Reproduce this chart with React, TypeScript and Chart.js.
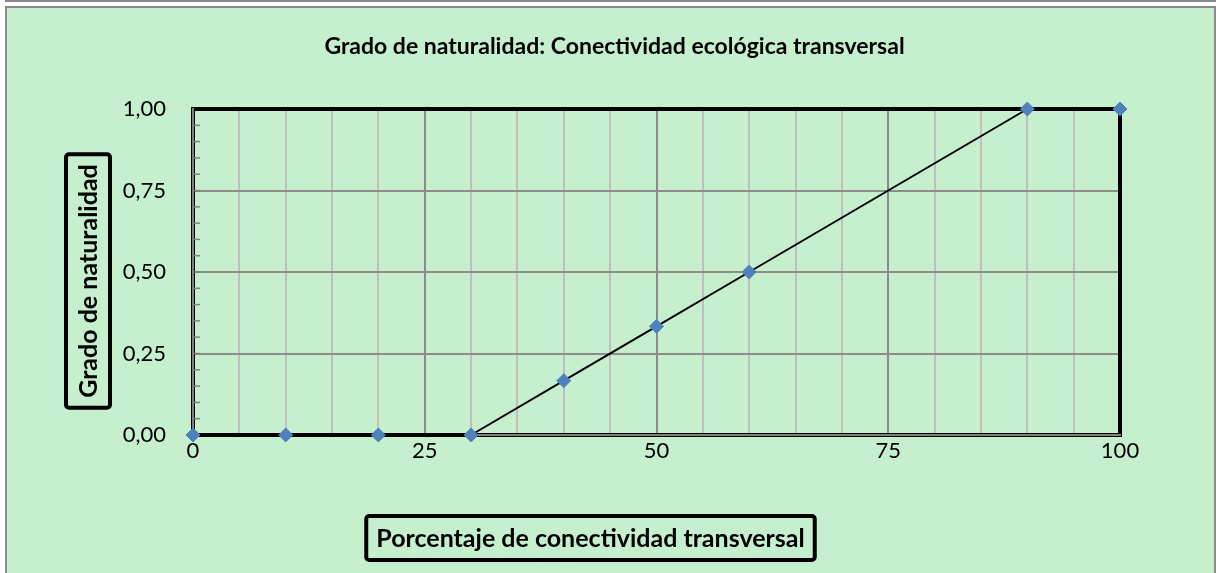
import React, { useEffect, useRef } from "react";
import { Chart, registerables } from "chart.js";

Chart.register(...registerables);

const chartTitle = "Grado de naturalidad: Conectividad ecológica transversal";
const xAxisTitle = "Porcentaje de conectividad transversal";
const yAxisTitle = "Grado de naturalidad";
const xValues = [0, 10, 20, 30, 40, 50, 60, 90, 100];
const yValues = [0, 0, 0, 0, 0.1667, 0.3333, 0.5, 1, 1];
const xMajorTicks = [0, 25, 50, 75, 100];
const yMajorTicks = [0, 0.25, 0.5, 0.75, 1];

const GREEN = "#C6EFCE";
const FONT = "Lato, 'Open Sans', sans-serif";

function roundRect(ctx: CanvasRenderingContext2D, x: number, y: number, w: number, h: number, r: number) {
  ctx.beginPath();
  ctx.moveTo(x + r, y);
  ctx.lineTo(x + w - r, y);
  ctx.arcTo(x + w, y, x + w, y + r, r);
  ctx.lineTo(x + w, y + h - r);
  ctx.arcTo(x + w, y + h, x + w - r, y + h, r);
  ctx.lineTo(x + r, y + h);
  ctx.arcTo(x, y + h, x, y + h - r, r);
  ctx.lineTo(x, y + r);
  ctx.arcTo(x, y, x + r, y, r);
  ctx.closePath();
}

const framePlugin = {
  id: "frame",
  beforeDatasetsDraw(chart: any) {
    const { ctx, chartArea } = chart;
    const { left, right, top, bottom } = chartArea;
    ctx.save();
    ctx.strokeStyle = "#000000";
    ctx.lineWidth = 4;
    ctx.strokeRect(left, top, right - left, bottom - top);
    ctx.strokeStyle = "#808080";
    ctx.lineWidth = 2;
    ctx.beginPath();
    ctx.moveTo(left, top - 1);
    ctx.lineTo(left, bottom);
    ctx.lineTo(right + 1, bottom);
    ctx.stroke();
    const ys = chart.scales.y;
    ctx.lineWidth = 1.5;
    ctx.strokeStyle = "#808080";
    ys.ticks.forEach((t: any) => {
      const py = ys.getPixelForValue(t.value);
      if (py <= top + 2 || py >= bottom - 2) return;
      ctx.beginPath();
      ctx.moveTo(left, py);
      ctx.lineTo(left + 7, py);
      ctx.stroke();
    });
    ctx.restore();
  },
  afterDraw(chart: any) {
    const { ctx, chartArea, width } = chart;
    const { left, right, top, bottom } = chartArea;
    ctx.save();
    ctx.fillStyle = "#000000";
    ctx.textAlign = "center";
    ctx.textBaseline = "middle";
    // main title
    ctx.font = `bold 23px ${FONT}`;
    ctx.fillText(chartTitle, width / 2 + 4, top - 62);
    // x axis title box
    ctx.font = `bold 25px ${FONT}`;
    const xw = ctx.measureText(xAxisTitle).width;
    const xcx = (left + right) / 2 - 66;
    const xcy = bottom + 103;
    ctx.strokeStyle = "#000000";
    ctx.lineWidth = 4;
    roundRect(ctx, xcx - xw / 2 - 10, xcy - 22, xw + 20, 44, 3);
    ctx.stroke();
    ctx.fillText(xAxisTitle, xcx, xcy + 1);
    // y axis title box
    const yw = ctx.measureText(yAxisTitle).width;
    const ycx = left - 105;
    const ycy = (top + bottom) / 2 + 9;
    roundRect(ctx, ycx - 22, ycy - yw / 2 - 10, 44, yw + 20, 3);
    ctx.stroke();
    ctx.translate(ycx + 1, ycy);
    ctx.rotate(-Math.PI / 2);
    ctx.fillText(yAxisTitle, 0, 0);
    ctx.restore();
  },
};

export default function App() {
  const canvasRef = useRef<HTMLCanvasElement | null>(null);

  useEffect(() => {
    if (!canvasRef.current) return;
    const points = xValues.map((x, i) => ({ x, y: yValues[i] }));
    const chart = new Chart(canvasRef.current, {
      type: "scatter",
      data: {
        datasets: [
          {
            data: points,
            showLine: true,
            borderColor: "#000000",
            borderWidth: 2,
            segment: {
              borderWidth: (ctx: any) => (ctx.p0.parsed.y === ctx.p1.parsed.y ? 4 : 2),
            },
            pointStyle: "rectRot",
            pointRadius: 7,
            pointHoverRadius: 7,
            pointBackgroundColor: "#4F81BD",
            pointBorderColor: "#4F81BD",
            pointBorderWidth: 1,
            clip: false,
          } as any,
        ],
      },
      options: {
        animation: false,
        responsive: false,
        events: [],
        layout: { padding: { left: 106, right: 94, top: 101, bottom: 88 } },
        plugins: {
          legend: { display: false },
          title: { display: false },
          tooltip: { enabled: false },
        },
        scales: {
          x: {
            type: "linear",
            min: 0,
            max: 100,
            afterFit: (s: any) => {
              s.height = 50;
            },
            border: { display: false },
            grid: {
              drawTicks: false,
              lineWidth: 2,
              color: (c: any) =>
                xMajorTicks.includes(c.tick.value) ? "#8A8A8A" : "#BEBEBE",
            },
            ticks: {
              stepSize: 5,
              padding: 3,
              color: "#000000",
              font: { family: FONT, size: 22 },
              maxRotation: 0,
              autoSkip: false,
              callback: (v: any) => (xMajorTicks.includes(Number(v)) ? String(v) : ""),
            },
          },
          y: {
            type: "linear",
            min: 0,
            max: 1,
            afterFit: (s: any) => {
              s.width = 80;
            },
            border: { display: false },
            grid: {
              drawTicks: false,
              lineWidth: 2,
              color: (c: any) => {
                const v = Math.round(c.tick.value * 100) / 100;
                return yMajorTicks.includes(v) ? "#8C8C8C" : "rgba(0,0,0,0)";
              },
            },
            ticks: {
              stepSize: 0.05,
              padding: 27,
              color: "#000000",
              font: { family: FONT, size: 22 },
              autoSkip: false,
              callback: (v: any) => {
                const r = Math.round(Number(v) * 100) / 100;
                return yMajorTicks.includes(r) ? r.toFixed(2).replace(".", ",") : "";
              },
            },
          },
        },
      },
      plugins: [framePlugin],
    });
    return () => chart.destroy();
  }, []);

  return (
    <div
      style={{
        position: "fixed",
        left: 0,
        top: 0,
        width: 1216,
        height: 573,
        overflow: "hidden",
        background: "#ffffff",
      }}
    >
      <div
        style={{
          position: "absolute",
          left: 5,
          top: -20,
          width: 1207,
          height: 18,
          background: GREEN,
          border: "2px solid #8A8A8A",
        }}
      />
      <div
        style={{
          position: "absolute",
          left: 5,
          top: 6,
          width: 1207,
          height: 600,
          background: GREEN,
          border: "2px solid #8A8A8A",
        }}
      >
        <canvas
          ref={canvasRef}
          width={1207}
          height={565}
          style={{ display: "block", width: 1207, height: 565 }}
        />
      </div>
    </div>
  );
}
